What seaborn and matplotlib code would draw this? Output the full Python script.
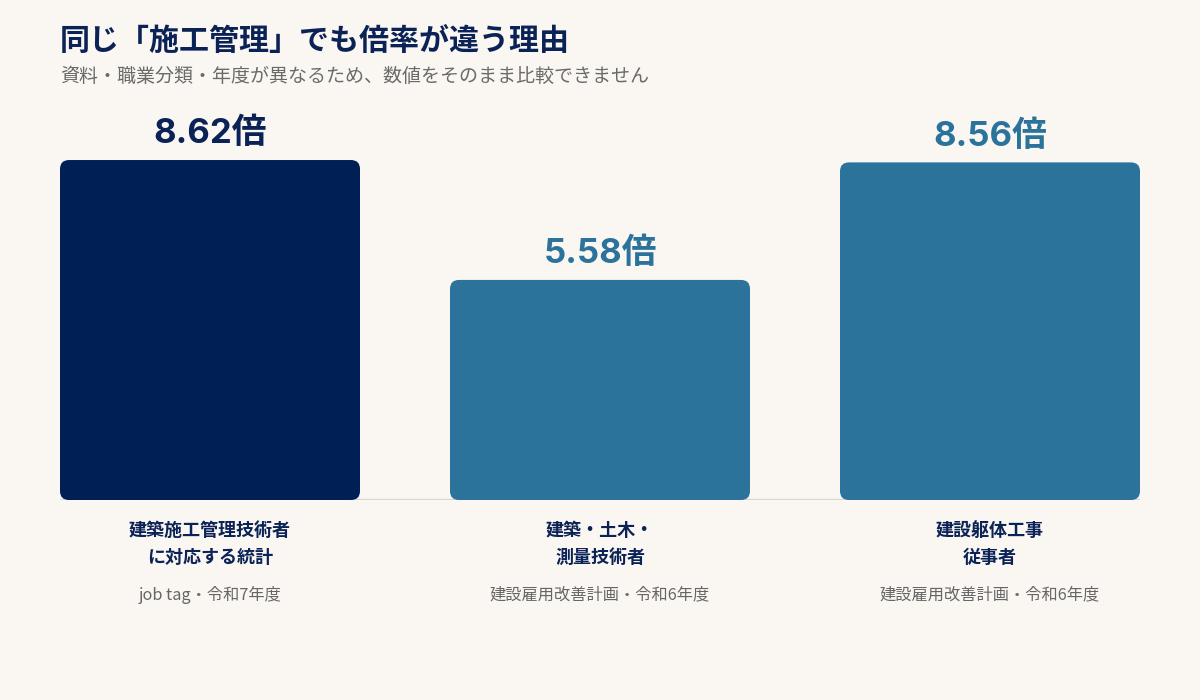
import numpy as np
import pandas as pd
import matplotlib
matplotlib.use('Agg')
import matplotlib.pyplot as plt
import seaborn as sns
from matplotlib.patches import FancyBboxPatch

# data
categories = ['建築施工管理技術者\nに対応する統計', '建築・土木・\n測量技術者', '建設躯体工事\n従事者']
sources = ['job tag・令和7年度', '建設雇用改善計画・令和6年度', '建設雇用改善計画・令和6年度']
ratios = [8.62, 5.58, 8.56]
value_labels = ['8.62倍', '5.58倍', '8.56倍']
bar_colors = ['#001F54', '#2C739B', '#2C739B']

title = '同じ「施工管理」でも倍率が違う理由'
subtitle = '資料・職業分類・年度が異なるため、数値をそのまま比較できません'

bg = '#FAF7F2'
navy = '#0B2257'

sns.set_theme(style='white')
plt.rcParams['font.family'] = ['Noto Sans CJK JP', 'DejaVu Sans']

df = pd.DataFrame({'category': categories, 'ratio': ratios})

fig = plt.figure(figsize=(12, 7), dpi=100, facecolor=bg)
ax = fig.add_axes([0.05, 200 / 700, 0.90, 394.4 / 700])
ax.set_facecolor(bg)

sns.barplot(data=df, x='category', y='ratio', hue='category', palette=bar_colors,
            width=300 / 390, legend=False, ax=ax, saturation=1)

ax.set_xlim(-0.5 + 45 / 390, 2.5 - 45 / 390)
ax.set_ylim(0, 10)

# swap plain bars for rounded ones
rx = 9 / 390
ry = 9 / 39.44
for patch, color in zip(list(ax.patches), bar_colors):
    x0, y0 = patch.get_x(), patch.get_y()
    w, h = patch.get_width(), patch.get_height()
    patch.remove()
    rounded = FancyBboxPatch((x0, y0), w, h,
                             boxstyle=f'round,pad=0,rounding_size={rx}',
                             mutation_aspect=ry / rx,
                             facecolor=color, edgecolor='none', zorder=3)
    ax.add_patch(rounded)

ax.axhline(0, color='#D8D6D2', linewidth=1.6, zorder=2)

for i, (val, lab) in enumerate(zip(ratios, value_labels)):
    ax.annotate(lab, (i, val), xytext=(0, 7), textcoords='offset points',
                ha='center', va='bottom', fontsize=25, fontweight='bold',
                color=bar_colors[i] if i else navy,
                family=['Inter', 'Noto Sans CJK JP'])

for s in ax.spines.values():
    s.set_visible(False)
ax.set_xticks([])
ax.set_yticks([])
ax.set_xlabel('')
ax.set_ylabel('')

# category names and sources below bars
for i, (cat, src) in enumerate(zip(categories, sources)):
    xf = (60 + 150 + i * 390) / 1200
    fig.text(xf, 1 - 544 / 700, cat, ha='center', va='center', fontsize=13,
             fontweight='bold', color=navy, linespacing=1.5)
    fig.text(xf, 1 - 595 / 700, src, ha='center', va='center', fontsize=11.7,
             color='#666666')

fig.text(60 / 1200, 1 - 41 / 700, title, ha='left', va='center', fontsize=21.6,
         fontweight='bold', color=navy)
fig.text(60 / 1200, 1 - 76 / 700, subtitle, ha='left', va='center', fontsize=13.7,
         color='#6A6A6A')

fig.savefig('out.png', dpi=100, facecolor=bg)
